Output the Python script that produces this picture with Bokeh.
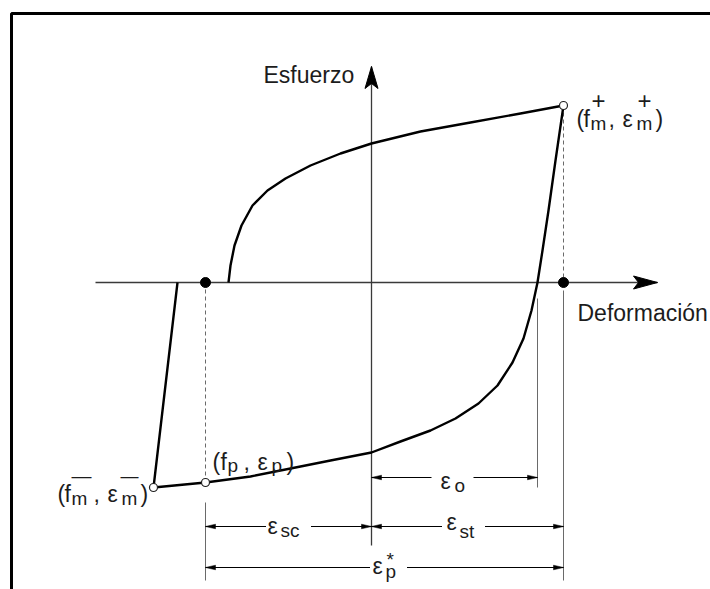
from bokeh.plotting import figure
from bokeh.models import Range1d
from bokeh.core.properties import value
from bokeh.embed import file_html
from bokeh.resources import INLINE

# ---- cyclic stress-strain curve (strain on x, stress on y; origin at the axes crossing) ----
loading_strain = [-1.43, -1.41, -1.37, -1.30, -1.19, -1.04, -0.86, -0.61, -0.31, 0.00, 0.49, 0.99, 1.49, 1.92]
loading_stress = [0.00, 0.17, 0.37, 0.57, 0.77, 0.92, 1.04, 1.17, 1.29, 1.39, 1.51, 1.60, 1.69, 1.77]

unloading_strain = [1.92, 1.84, 1.77, 1.71, 1.66, 1.60, 1.52, 1.41, 1.26, 1.07, 0.84, 0.59, 0.29, 0.00,
                    -0.41, -0.81, -1.21, -1.66]
unloading_stress = [1.77, 1.22, 0.72, 0.32, 0.00, -0.28, -0.56, -0.80, -1.03, -1.21, -1.36, -1.48, -1.59,
                    -1.70, -1.78, -1.86, -1.94, -2.00]

# (fp, ep) -> (fm-, em-) -> reloading up to zero stress
tail_strain = [-1.66, -2.18, -1.94]
tail_stress = [-2.00, -2.05, 0.00]

# characteristic points
eps_m_pos, f_m_pos = 1.92, 1.77
eps_p, f_p = -1.66, -2.00
eps_m_neg, f_m_neg = -2.18, -2.05
eps_o = 1.66

# ---- canvas: 1 data unit = 100 px ----
W, H = 710, 589
X0, X1 = -3.71, 3.39
Y0, Y1 = -3.07, 2.82
PX = (X1 - X0) / W

FONT = "Liberation Sans"
MAIN, SUB = 23, 19
INK = "#1c1c1c"
GREY = "#6a6a6a"

p = figure(width=W, height=H, x_range=Range1d(X0, X1), y_range=Range1d(Y0, Y1),
           output_backend="svg", toolbar_location=None, min_border=0)
p.axis.visible = False
p.grid.visible = False
p.outline_line_color = None
p.background_fill_color = "white"
p.border_fill_color = "white"

# frame (left and top edges)
frame_x = X0 + 11 * PX
frame_y = Y1 - 13 * PX
p.line([frame_x, frame_x, X1], [Y0, frame_y, frame_y], line_color="black", line_width=3)

# ---- axes ----
ax_left, ax_right = -2.76, 2.86
ax_bottom, ax_top = -2.63, 2.16
p.line([ax_left, ax_right], [0, 0], line_color="#3a3a3a", line_width=1.3)
p.line([0, 0], [ax_bottom, ax_top], line_color="#3a3a3a", line_width=1.3)


def arrow_head(tx, ty, dx, dy, length, half, notch=0.0):
    """Polygon of an arrow head whose tip sits at (tx, ty) pointing along (dx, dy)."""
    bx, by = tx - dx * length * PX, ty - dy * length * PX
    nx, ny = -dy, dx
    cx, cy = tx - dx * (length - notch) * PX, ty - dy * (length - notch) * PX
    xs = [tx, bx + nx * half * PX, cx, bx - nx * half * PX]
    ys = [ty, by + ny * half * PX, cy, by - ny * half * PX]
    return xs, ys


heads = [arrow_head(ax_right, 0, 1, 0, 24, 6.5, 5), arrow_head(0, ax_top, 0, 1, 22, 6.5, 5)]
p.patches([h[0] for h in heads], [h[1] for h in heads], fill_color="black", line_color="black", line_width=1)

# ---- projection / extension lines ----
dim_o, dim_mid, dim_bot = -1.95, -2.44, -2.85
ext_end = -2.98
p.line([eps_m_pos, eps_m_pos], [f_m_pos, 0], line_color=GREY, line_width=1, line_dash="4 3")
p.line([eps_p, eps_p], [0, f_p], line_color=GREY, line_width=1, line_dash="4 3")
p.segment(x0=[eps_m_pos, eps_p, eps_o], y0=[-0.08, f_p - 0.2, -0.16],
          x1=[eps_m_pos, eps_p, eps_o], y1=[ext_end, ext_end, dim_o - 0.1],
          line_color=GREY, line_width=1)

# ---- hysteresis curve ----
p.line(loading_strain, loading_stress, line_color="black", line_width=2.4, line_join="round")
p.line(unloading_strain, unloading_stress, line_color="black", line_width=2.4, line_join="round")
p.line(tail_strain, tail_stress, line_color="black", line_width=2.4, line_join="round")

p.scatter([eps_p, eps_m_pos], [0, 0], size=10, fill_color="black", line_color="black")
p.scatter([eps_m_pos, eps_p, eps_m_neg], [f_m_pos, f_p, f_m_neg], size=8,
          fill_color="white", line_color="#222222", line_width=1.2)

# ---- dimension lines ----
dims = [(0, eps_o, dim_o), (eps_p, 0, dim_mid), (0, eps_m_pos, dim_mid), (eps_p, eps_m_pos, dim_bot)]
p.segment(x0=[d[0] for d in dims], y0=[d[2] for d in dims], x1=[d[1] for d in dims], y1=[d[2] for d in dims],
          line_color="black", line_width=1.2)
dheads = []
for a, b, yy in dims:
    dheads.append(arrow_head(a, yy, -1, 0, 10, 2.3))
    dheads.append(arrow_head(b, yy, 1, 0, 10, 2.3))
p.patches([h[0] for h in dheads], [h[1] for h in dheads], fill_color="black", line_color="black", line_width=0.5)


def parts(ax, ay, items):
    """Draw text pieces placed in pixels from an anchor (dx right, dy down, at the baseline)."""
    for txt, dx, dy, size in items:
        p.text(x=[ax + dx * PX], y=[ay - dy * PX], text=[txt], text_font=value(FONT),
               text_font_size=f"{size}px", text_baseline="alphabetic", text_align="left",
               text_color=INK)


# white gaps behind the dimension labels
mid_o = eps_o / 2
mid_sc = eps_p / 2
mid_st = eps_m_pos / 2
mid_p = (eps_p + eps_m_pos) / 2
gaps = [(mid_o - 2 * PX, dim_o, 42), (mid_sc, dim_mid, 45), (mid_st - 4 * PX, dim_mid, 43),
        (mid_p + 4 * PX, dim_bot, 37)]
p.rect(x=[g[0] for g in gaps], y=[g[1] for g in gaps], width=[g[2] * PX for g in gaps],
       height=14 * PX, fill_color="white", line_color=None)

# axis titles
parts(0, ax_top, [("Esfuerzo", -108, 8, MAIN)])
parts(ax_right, 0, [("Deformación", -80, 30, MAIN)])

# (fm+, em+)
parts(eps_m_pos, f_m_pos, [
    ("(", 13, 13, MAIN), ("f", 20, 13, MAIN), ("m", 27, 18, SUB), ("+", 28, -5, 24),
    (",", 45, 13, MAIN), ("ε", 59, 13, MAIN), ("m", 73, 18, SUB), ("+", 74, -5, 24),
    (")", 92, 13, MAIN)])

# (fm-, em-)
parts(eps_m_neg, f_m_neg, [
    ("(", -96, 6, MAIN), ("f", -89, 6, MAIN), ("m", -82, 11, SUB), ("—", -82, -12, 20),
    (",", -60, 6, MAIN), ("ε", -46, 6, MAIN), ("m", -32, 11, SUB), ("—", -33, -12, 18),
    (")", -13, 6, MAIN)])

# (fp, ep)
parts(eps_p, f_p, [
    ("(", 7, -21, MAIN), ("f", 15, -21, MAIN), ("p", 22, -17, SUB),
    (",", 38, -21, MAIN), ("ε", 52, -21, MAIN), ("p", 66, -17, SUB), (")", 81, -21, MAIN)])

# dimension labels
parts(mid_o, dim_o, [("ε", -14, 3, MAIN), ("o", 0, 8, SUB)])
parts(mid_sc, dim_mid, [("ε", -21, -1, MAIN), ("sc", -8, 4, SUB)])
parts(mid_st, dim_mid, [("ε", -21, -5, MAIN), ("st", -8, 5, SUB)])
parts(mid_p, dim_bot, [("ε", -12, -2, MAIN), ("p", 1, 4, SUB), ("*", 2, -8, SUB)])

open("out.html", "w").write(file_html(p, INLINE))
